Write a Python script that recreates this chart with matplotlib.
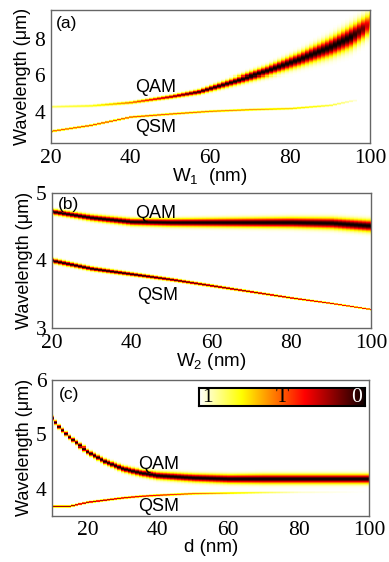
import numpy as np
import matplotlib
matplotlib.use("Agg")
import matplotlib.pyplot as plt

# ---------------- data ----------------
# Panel (a): W1 sweep
a_x = [20, 30, 40, 50, 57, 66, 74, 82, 90, 95, 98, 100]
a_qam_lam = [4.25, 4.30, 4.48, 4.80, 5.07, 5.65, 6.18, 6.80, 7.50, 8.05, 8.50, 8.85]
a_qam_depth = [0.18, 0.25, 0.50, 0.80, 0.95, 1.00, 1.00, 1.00, 1.00, 1.00, 0.85, 0.55]
a_qam_width = [0.06, 0.06, 0.07, 0.09, 0.12, 0.18, 0.24, 0.33, 0.45, 0.52, 0.52, 0.52]
a_qsm_x = [20, 30, 40, 50, 60, 70, 80, 90, 95, 97]
a_qsm_lam = [2.89, 3.22, 3.68, 3.85, 4.00, 4.09, 4.15, 4.33, 4.56, 4.62]
a_qsm_depth = [0.55, 0.58, 0.58, 0.55, 0.50, 0.45, 0.35, 0.22, 0.10, 0.0]
a_qsm_width = [0.05] * 10

# Panel (b): W2 sweep
b_x = [20, 30, 40, 50, 60, 70, 80, 90, 100]
b_qam_lam = [4.71, 4.62, 4.56, 4.55, 4.55, 4.55, 4.55, 4.54, 4.50]
b_qam_depth = [1.0, 1.0, 1.0, 1.0, 1.0, 1.0, 1.0, 1.0, 1.0]
b_qam_width = [0.035, 0.04, 0.045, 0.05, 0.055, 0.06, 0.065, 0.07, 0.075]
b_qsm_lam = [3.99, 3.87, 3.79, 3.71, 3.62, 3.53, 3.44, 3.36, 3.27]
b_qsm_depth = [1.0, 1.0, 1.0, 0.95, 0.9, 0.87, 0.84, 0.8, 0.78]
b_qsm_width = [0.032, 0.028, 0.024, 0.02, 0.017, 0.014, 0.012, 0.01, 0.009]

# Panel (c): d sweep
c_x = [10, 12, 15, 20, 25, 30, 35, 40, 50, 60, 70, 80, 100]
c_qam_lam = [5.28, 5.12, 4.93, 4.68, 4.50, 4.37, 4.29, 4.24, 4.20, 4.18, 4.18, 4.18, 4.18]
c_qam_depth = [1.0] * 13
c_qam_width = [0.035, 0.035, 0.035, 0.04, 0.045, 0.05, 0.055, 0.06, 0.065, 0.07, 0.075, 0.075, 0.075]
c_qsm_lam = [3.675, 3.675, 3.675, 3.75, 3.79, 3.83, 3.86, 3.88, 3.91, 3.92, 3.93, 3.935, 3.94]
c_qsm_depth = [0.85, 0.85, 0.85, 0.85, 0.85, 0.8, 0.75, 0.7, 0.55, 0.38, 0.2, 0.06, 0.0]
c_qsm_width = [0.016] * 13

panel_labels = ["(a)", "(b)", "(c)"]
xlabels = [r"W$_{\mathregular{1}}$  (nm)", r"W$_{\mathregular{2}}$ (nm)", "d (nm)"]
ylabel = "Wavelength (\u03bcm)"

# ---------------- fonts ----------------
plt.rcParams["font.family"] = ["Liberation Sans", "DejaVu Sans"]
plt.rcParams["mathtext.fontset"] = "custom"
plt.rcParams["mathtext.rm"] = "Liberation Sans"
SERIF = ["Liberation Serif", "DejaVu Serif"]

fig = plt.figure(figsize=(3.89, 5.62), dpi=100)


def tmap(xcols, ylim, nrows, modes, sub=8):
    ys = np.linspace(ylim[0], ylim[1], nrows * sub)
    X = np.asarray(xcols, float)
    T = np.ones((ys.size, X.size))
    for mx, lam, dep, gam in modes:
        l = np.interp(X, mx, lam)
        d = np.interp(X, mx, dep)
        g = np.interp(X, mx, gam)
        u = (ys[:, None] - l[None, :]) / g[None, :]
        T -= d[None, :] * np.exp(-u ** 2)
    T = np.clip(T, 0, 1)
    T = T.reshape(nrows, sub, X.size).mean(axis=1)
    return T


def style(ax, xlim, ylim, yticks, xlabel, plabel, lx, ly):
    ax.set_xlim(*xlim)
    ax.set_ylim(*ylim)
    ax.set_yticks(yticks)
    ax.set_xticks([20, 40, 60, 80, 100])
    for s in ax.spines.values():
        s.set_color("#666666")
        s.set_linewidth(1.0)
    ax.tick_params(direction="in", length=0, pad=4)
    for t in ax.get_xticklabels() + ax.get_yticklabels():
        t.set_fontfamily(SERIF)
        t.set_fontsize(15.5)
    ax.set_xlabel(xlabel, fontsize=13.5, labelpad=-1)
    ax.set_ylabel(ylabel, fontsize=13, labelpad=2)
    ax.text(lx, ly, plabel, transform=ax.transAxes, fontsize=12.5, va="center", ha="left")


# ---- panel (a)
axa = fig.add_axes([0.130, 0.745, 0.821, 0.237])
ylim_a = (2.25, 9.6)
xa = np.arange(20, 101)
Ta = tmap(xa, ylim_a, 133, [(a_x, a_qam_lam, a_qam_depth, a_qam_width),
                            (a_qsm_x, a_qsm_lam, a_qsm_depth, a_qsm_width)])
axa.imshow(Ta, cmap="hot", vmin=0, vmax=1, origin="lower", aspect="auto",
           interpolation="nearest", extent=[19.5, 100.5, ylim_a[0], ylim_a[1]])
style(axa, (20, 100), ylim_a, [4, 6, 8], xlabels[0], panel_labels[0], 0.017, 0.90)
axa.text(41.1, 5.33, "QAM", fontsize=13, va="center", ha="left")
axa.text(41.1, 3.13, "QSM", fontsize=13, va="center", ha="left")

# ---- panel (b)
axb = fig.add_axes([0.133, 0.416, 0.821, 0.241])
ylim_b = (3.0, 5.0)
xb = np.arange(20, 101)
Tb = tmap(xb, ylim_b, 136, [(b_x, b_qam_lam, b_qam_depth, b_qam_width),
                            (b_x, b_qsm_lam, b_qsm_depth, b_qsm_width)])
axb.imshow(Tb, cmap="hot", vmin=0, vmax=1, origin="lower", aspect="auto",
           interpolation="nearest", extent=[19.5, 100.5, ylim_b[0], ylim_b[1]])
style(axb, (20, 100), ylim_b, [3, 4, 5], xlabels[1], panel_labels[1], 0.02, 0.91)
axb.text(40.9, 4.70, "QAM", fontsize=13, va="center", ha="left")
axb.text(41.3, 3.48, "QSM", fontsize=13, va="center", ha="left")

# ---- panel (c)
axc = fig.add_axes([0.134, 0.082, 0.815, 0.242])
ylim_c = (3.5, 6.0)
xc = np.arange(10, 101)
Tc = tmap(xc, ylim_c, 136, [(c_x, c_qam_lam, c_qam_depth, c_qam_width),
                            (c_x, c_qsm_lam, c_qsm_depth, c_qsm_width)])
axc.imshow(Tc, cmap="hot", vmin=0, vmax=1, origin="lower", aspect="auto",
           interpolation="nearest", extent=[9.5, 100.5, ylim_c[0], ylim_c[1]])
style(axc, (10, 100), ylim_c, [4, 5, 6], xlabels[2], panel_labels[2], 0.021, 0.89)
axc.text(34.4, 4.44, "QAM", fontsize=13, va="center", ha="left")
axc.text(34.4, 3.675, "QSM", fontsize=13, va="center", ha="left")

# ---- colorbar inset (T: 1 -> 0)
cax = fig.add_axes([0.512, 0.278, 0.427, 0.032])
grad = np.linspace(1, 0, 256)[None, :]
cax.imshow(grad, cmap="hot", vmin=0, vmax=1, aspect="auto", extent=[0, 1, 0, 1])
cax.set_xticks([])
cax.set_yticks([])
for s in cax.spines.values():
    s.set_color("black")
    s.set_linewidth(1.5)
cax.text(0.02, 0.45, "1", transform=cax.transAxes, fontfamily=SERIF, fontsize=15.5,
         ha="left", va="center", color="black")
cax.text(0.5, 0.45, "T", transform=cax.transAxes, fontfamily=SERIF, fontsize=15.5,
         ha="center", va="center", color="black")
cax.text(0.98, 0.45, "0", transform=cax.transAxes, fontfamily=SERIF, fontsize=15.5,
         ha="right", va="center", color="white")

fig.savefig("out.png", dpi=100)
